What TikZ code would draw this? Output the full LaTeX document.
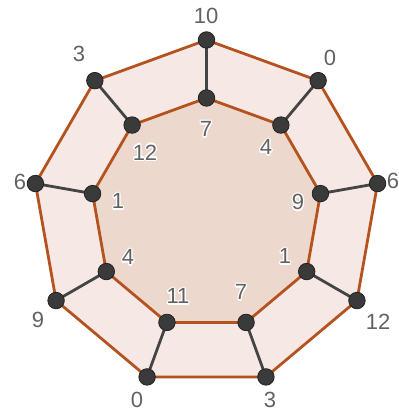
\documentclass[tikz,border=0pt]{standalone}
\usepackage{fontspec}
\setmainfont{Liberation Sans}
\usepackage{contour}
\contourlength{1.2pt}
\usetikzlibrary{calc}
\definecolor{edgeor}{HTML}{B4531F}
\definecolor{ringfill}{HTML}{F6E9E5}
\definecolor{innerfill}{HTML}{EDD8CD}
\definecolor{vfill}{HTML}{3A3A3A}
\definecolor{vdraw}{HTML}{222222}
\definecolor{spokec}{HTML}{444444}
\definecolor{labc}{HTML}{626262}
\tikzset{
  vert/.style={circle,fill=vfill,draw=vdraw,line width=0.8pt,inner sep=0pt,minimum size=16.5pt},
  ringedge/.style={draw=edgeor,line width=2.8pt,line join=round},
  spoke/.style={draw=spokec,line width=2.8pt},
  outlab/.style={text=labc,font=\fontsize{22}{22}\selectfont,inner sep=0pt},
  inlab/.style={text=labc,font=\fontsize{22}{22}\selectfont,inner sep=0pt},
}
\newcommand{\halo}[1]{\contour{white}{#1}}
\begin{document}
\begin{tikzpicture}[x=1pt,y=1pt]
\useasboundingbox (0,0) rectangle (398,414);
\coordinate (c) at (206.5,200.3);
% coordinates of vertices
\foreach \i/\a in {1/90,2/50,3/10,4/-30,5/-70,6/-110,7/-150,8/170,9/130}{
  \coordinate (o\i) at ($(c)+(\a:173.7)$);
  \coordinate (n\i) at ($(c)+(\a:115.7)$);
}
% fills
\fill[ringfill] (o1)--(o2)--(o3)--(o4)--(o5)--(o6)--(o7)--(o8)--(o9)--cycle;
\fill[innerfill] (n1)--(n2)--(n3)--(n4)--(n5)--(n6)--(n7)--(n8)--(n9)--cycle;
% ring edges
\draw[ringedge] (o1)--(o2)--(o3)--(o4)--(o5)--(o6)--(o7)--(o8)--(o9)--cycle;
\draw[ringedge] (n1)--(n2)--(n3)--(n4)--(n5)--(n6)--(n7)--(n8)--(n9)--cycle;
% spokes
\foreach \i in {1,...,9}{ \draw[spoke] (o\i)--(n\i); }
% vertices
\foreach \i in {1,...,9}{
  \node[vert] (O\i) at (o\i) {};
  \node[vert] (N\i) at (n\i) {};
}
% outer labels
\node[outlab] (lo1) at (206,398) {10};
\node[outlab] (lo2) at (330,356) {0};
\node[outlab] (lo3) at (393,233) {6};
\node[outlab] (lo4) at (378,92) {12};
\node[outlab] (lo5) at (270,14) {3};
\node[outlab] (lo6) at (137,14) {0};
\node[outlab] (lo7) at (38,94) {9};
\node[outlab] (lo8) at (20,232) {6};
\node[outlab] (lo9) at (79,360) {3};
% inner labels
\node[inlab] (li1) at (206,284) {\halo{7}};
\node[inlab] (li2) at (266,266) {\halo{4}};
\node[inlab] (li3) at (298,211) {\halo{9}};
\node[inlab] (li4) at (285,157) {\halo{1}};
\node[inlab] (li5) at (241,121) {\halo{7}};
\node[inlab] (li6) at (178,117) {\halo{11}};
\node[inlab] (li7) at (128,156) {\halo{4}};
\node[inlab] (li8) at (118,212) {\halo{1}};
\node[inlab] (li9) at (145,261) {\halo{12}};
\end{tikzpicture}
\end{document}
